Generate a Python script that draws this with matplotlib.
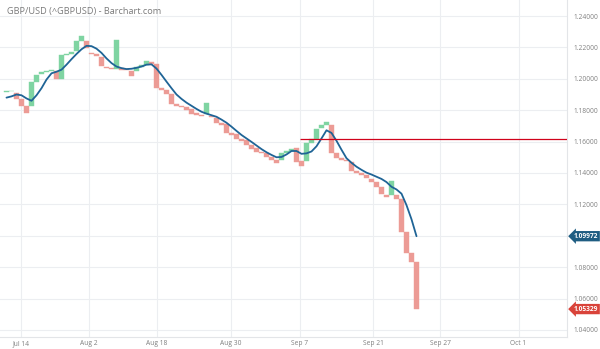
import matplotlib.pyplot as plt
import numpy as np

# daily bars (open -> close)
opens = [
    1.1915, 1.1920, 1.1908, 1.1870, 1.1827, 1.1827, 1.1982, 1.2030, 1.2042, 1.2050,
    1.2050, 1.1997, 1.2152, 1.2160, 1.2180, 1.2240, 1.2243, 1.2162, 1.2155, 1.2141,
    1.2077, 1.2070, 1.2062, 1.2066, 1.2062, 1.2050, 1.2052, 1.2077, 1.2088, 1.2110,
    1.2092, 1.1939, 1.1929, 1.1901, 1.1838, 1.1827, 1.1822, 1.1806, 1.1780, 1.1769,
    1.1774, 1.1765, 1.1752, 1.1717, 1.1710, 1.1653, 1.1646, 1.1617, 1.1610, 1.1578,
    1.1557, 1.1536, 1.1525, 1.1504, 1.1483, 1.1482, 1.1527, 1.1542, 1.1557, 1.1478,
    1.1478, 1.1589, 1.1615, 1.1685, 1.1706, 1.1706, 1.1525, 1.1494, 1.1484, 1.1472,
    1.1410, 1.1400, 1.1385, 1.1362, 1.1340, 1.1313, 1.1262, 1.1262, 1.1262, 1.1232,
    1.1026, 1.0892, 1.0835,
]
closes = [
    1.1920, 1.1924, 1.1870, 1.1827, 1.1780, 1.1982, 1.2024, 1.2042, 1.2050, 1.2056,
    1.1997, 1.2152, 1.2160, 1.2170, 1.2240, 1.2272, 1.2195, 1.2155, 1.2147, 1.2082,
    1.2070, 1.2063, 1.2245, 1.2058, 1.2056, 1.2020, 1.2077, 1.2088, 1.2115, 1.2095,
    1.1939, 1.1929, 1.1901, 1.1838, 1.1827, 1.1818, 1.1801, 1.1774, 1.1769, 1.1763,
    1.1845, 1.1757, 1.1717, 1.1706, 1.1653, 1.1642, 1.1617, 1.1606, 1.1578, 1.1553,
    1.1536, 1.1525, 1.1504, 1.1483, 1.1462, 1.1527, 1.1542, 1.1553, 1.1472, 1.1445,
    1.1589, 1.1615, 1.1680, 1.1706, 1.1727, 1.1525, 1.1494, 1.1484, 1.1476, 1.1415,
    1.1400, 1.1387, 1.1365, 1.1342, 1.1313, 1.1264, 1.1245, 1.1349, 1.1232, 1.1026,
    1.0892, 1.0835, 1.05329,
]
# moving average line
ma = [
    1.1880, 1.1888, 1.1900, 1.1895, 1.1875, 1.1860, 1.1895, 1.1940, 1.1995, 1.2035,
    1.2045, 1.2058, 1.2090, 1.2125, 1.2158, 1.2188, 1.2210, 1.2208, 1.2192, 1.2165,
    1.2130, 1.2100, 1.2078, 1.2068, 1.2062, 1.2064, 1.2070, 1.2078, 1.2090, 1.2092,
    1.2065, 1.2025, 1.1982, 1.1940, 1.1900, 1.1872, 1.1848, 1.1828, 1.1808, 1.1790,
    1.1778, 1.1768, 1.1758, 1.1740, 1.1720, 1.1695, 1.1668, 1.1642, 1.1620, 1.1598,
    1.1575, 1.1552, 1.1532, 1.1515, 1.1500, 1.1502, 1.1518, 1.1540, 1.1540, 1.1522,
    1.1525, 1.1537, 1.1570, 1.1620, 1.1672, 1.1655, 1.1605, 1.1548, 1.1494, 1.1465,
    1.1440, 1.1420, 1.1402, 1.1390, 1.1376, 1.1362, 1.1342, 1.1312, 1.1295, 1.1268,
    1.1195, 1.1105, 1.09972,
]

date_labels = ["Jul 14", "Aug 2", "Aug 18", "Aug 30", "Sep 7", "Sep 21", "Sep 27", "Oct 1"]
date_pos = [2.9, 16.5, 30.1, 44.9, 58.6, 73.3, 86.7, 102.4]
price_ticks = [1.04, 1.06, 1.08, 1.10, 1.12, 1.14, 1.16, 1.18, 1.20, 1.22, 1.24]
level = 1.1615

GREEN = "#7fd4a2"
RED = "#ec9b95"
BLUE = "#1f6496"
GRID = "#eceef1"
TXT = "#808080"

plt.rcParams["font.family"] = ["Open Sans", "DejaVu Sans"]

fig = plt.figure(figsize=(6, 3.49), dpi=100)
ax = fig.add_axes([0, 0.0344, 0.945, 0.9656])

o = np.array(opens)
c = np.array(closes)
x = np.arange(len(o))
colors = np.where(c >= o, GREEN, RED)
ax.bar(x, c - o, bottom=o, width=1.0, color=colors, edgecolor=colors,
       linewidth=0.3, zorder=2)

ax.plot(x, ma, color=BLUE, linewidth=1.3, zorder=3, solid_capstyle="round")

ax.hlines(level, date_pos[4], 200, color="#d0021b", linewidth=0.9, zorder=4)

ax.set_xlim(-1.3, 112.1)
ax.set_ylim(1.0355, 1.2502)

ax.set_xticks(date_pos)
ax.set_xticklabels(date_labels)
ax.set_yticks(price_ticks)
ax.set_yticklabels([f"{v:.5f}" for v in price_ticks])
ax.yaxis.tick_right()
ax.tick_params(axis="both", length=0, labelsize=4.8, colors=TXT)
ax.tick_params(axis="y", pad=5)
ax.tick_params(axis="x", pad=2)
ax.grid(color=GRID, linewidth=0.8, zorder=0)

for side in ["top", "left"]:
    ax.spines[side].set_visible(False)
ax.spines["right"].set_color("#e3e5e8")
ax.spines["bottom"].set_color("#e3e5e8")
ax.spines["right"].set_linewidth(0.8)
ax.spines["bottom"].set_linewidth(0.8)

ax.text(0.013, 0.966, "GBP/USD (^GBPUSD) - Barchart.com", transform=ax.transAxes,
        fontsize=6.6, color="#7a7a7a", va="center", ha="left")

# price tags on the axis
for val, col in [(ma[-1], "#1f5d82"), (closes[-1], "#d9433a")]:
    ax.text(1.012, val, f"{val:.5f}", transform=ax.get_yaxis_transform(),
            fontsize=4.8, color="white", fontweight="bold", va="center", ha="left",
            bbox=dict(boxstyle="larrow,pad=0.25", facecolor=col, edgecolor="none"),
            clip_on=False, zorder=5)

fig.savefig("out.png", dpi=100)
